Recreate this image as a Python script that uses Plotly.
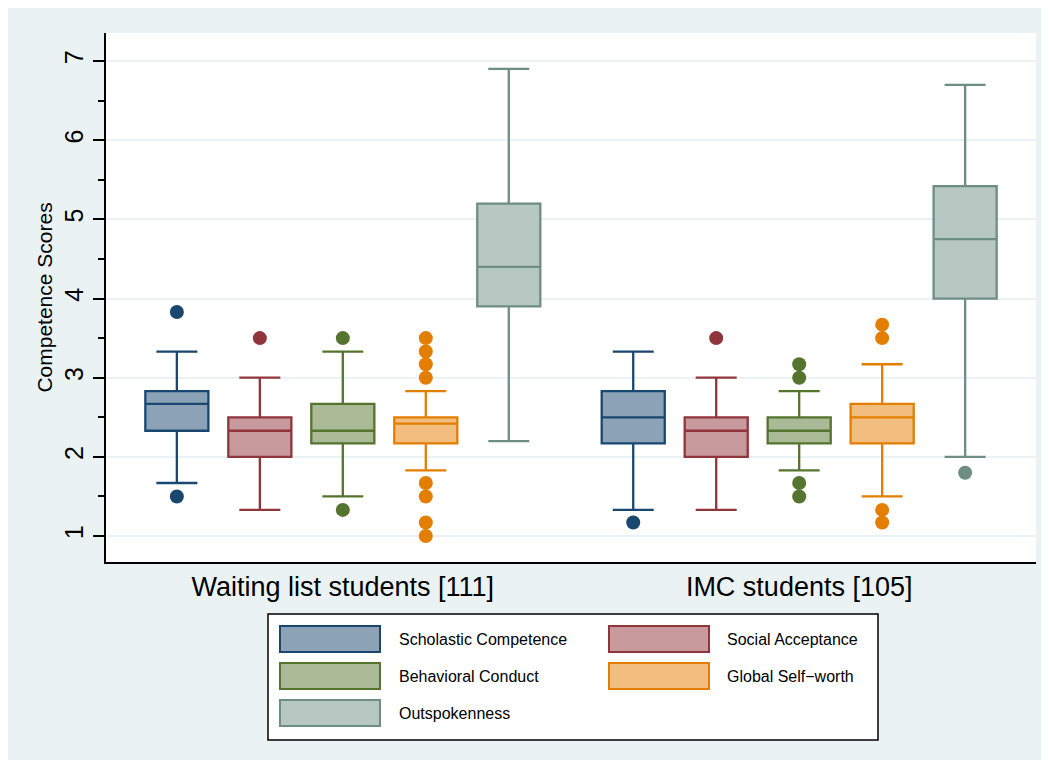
import plotly.graph_objects as go

# ---- data ----
groups = ["Waiting list students [111]", "IMC students [105]"]
series = ["Scholastic Competence", "Social Acceptance", "Behavioral Conduct",
          "Global Self\u2212worth", "Outspokenness"]

# per series: [waiting list, IMC]
q1 = [[2.33, 2.17], [2.00, 2.00], [2.17, 2.17], [2.17, 2.17], [3.90, 4.00]]
med = [[2.67, 2.50], [2.33, 2.33], [2.33, 2.33], [2.42, 2.50], [4.40, 4.75]]
q3 = [[2.83, 2.83], [2.50, 2.50], [2.67, 2.50], [2.50, 2.67], [5.20, 5.42]]
lowf = [[1.67, 1.33], [1.33, 1.33], [1.50, 1.83], [1.83, 1.50], [2.20, 2.00]]
upf = [[3.33, 3.33], [3.00, 3.00], [3.33, 2.83], [2.83, 3.17], [6.90, 6.70]]
outliers = [
    [[3.83, 1.50], [1.17]],
    [[3.50], [3.50]],
    [[3.50, 1.33], [3.00, 3.17, 1.67, 1.50]],
    [[3.00, 3.17, 3.33, 3.50, 1.67, 1.50, 1.17, 1.00], [3.50, 3.67, 1.33, 1.17]],
    [[], [1.80]],
]

line_colors = ["#1a476f", "#90353b", "#55752f", "#e37e00", "#6e8e84"]
fill_colors = ["#8ca3b7", "#c89a9d", "#aaba97", "#f1be80", "#b7c7c2"]

# positions: groups separated by extra gap
n = len(series)
gap = 1.5


def pos(g, i):
    return 1 + i + g * (n - 1 + gap)


fig = go.Figure()
for i, s in enumerate(series):
    xs = [pos(g, i) for g in range(len(groups))]
    fig.add_trace(go.Box(
        x=xs, q1=q1[i], median=med[i], q3=q3[i],
        lowerfence=lowf[i], upperfence=upf[i],
        name=s, fillcolor=fill_colors[i],
        line=dict(color=line_colors[i], width=2.3),
        width=0.76, whiskerwidth=0.65, boxpoints=False, showlegend=False,
    ))
    ox, oy = [], []
    for g in range(len(groups)):
        for v in outliers[i][g]:
            ox.append(pos(g, i))
            oy.append(v)
    if ox:
        fig.add_trace(go.Scatter(
            x=ox, y=oy, mode="markers", showlegend=False,
            marker=dict(size=14, color=line_colors[i], line=dict(width=0)),
            hoverinfo="y",
        ))

group_centers = [(pos(g, 0) + pos(g, n - 1)) / 2 for g in range(len(groups))]

# ---- manual legend (paper coordinates) ----
shapes = []
annotations = []


def px_x(ix):
    return (ix - 106) / 930


def px_y(iy):
    return (562 - iy) / 529


shapes.append(dict(type="rect", xref="paper", yref="paper",
                   x0=px_x(268), x1=px_x(878), y0=px_y(740), y1=px_y(614),
                   line=dict(color="black", width=1.5), fillcolor="white", layer="below"))
col_rect = [(280, 380), (609, 709)]
col_text = [397, 725]
row_y = [639, 676, 713]
for i, s in enumerate(series):
    r, c = divmod(i, 2)
    shapes.append(dict(type="rect", xref="paper", yref="paper",
                       x0=px_x(col_rect[c][0]), x1=px_x(col_rect[c][1]),
                       y0=px_y(row_y[r] + 13), y1=px_y(row_y[r] - 13),
                       line=dict(color=line_colors[i], width=2),
                       fillcolor=fill_colors[i]))
    annotations.append(dict(xref="paper", yref="paper", x=px_x(col_text[c]), y=px_y(row_y[r]),
                            text=s, showarrow=False, xanchor="left", yanchor="middle",
                            font=dict(size=16, color="black")))

fig.update_layout(
    width=1033, height=752,
    margin=dict(l=98, r=5, t=25, b=198),
    paper_bgcolor="#eaf2f3", plot_bgcolor="white",
    font=dict(family="Liberation Sans, Arial, sans-serif", color="black"),
    shapes=shapes, annotations=annotations,
    xaxis=dict(range=[0.146, 11.354], tickvals=group_centers, ticktext=groups,
               showgrid=False, zeroline=False, showline=True, linecolor="black",
               linewidth=1.5, ticks="", tickfont=dict(size=27)),
    yaxis=dict(range=[0.672, 7.354], tickvals=[1, 2, 3, 4, 5, 6, 7],
               showgrid=True, gridcolor="#eaf2f3", gridwidth=2, zeroline=False,
               showline=True, linecolor="black", linewidth=1.5,
               ticks="outside", ticklen=11, tickcolor="black", tickwidth=1.5,
               tickangle=-90, tickfont=dict(size=25),
               minor=dict(tickvals=[1.5, 2.5, 3.5, 4.5, 5.5, 6.5], ticks="outside",
                          ticklen=6, tickcolor="black", tickwidth=1.5, showgrid=False),
               title=dict(text="Competence Scores", font=dict(size=21), standoff=2)),
)

fig.write_html("out.html")
